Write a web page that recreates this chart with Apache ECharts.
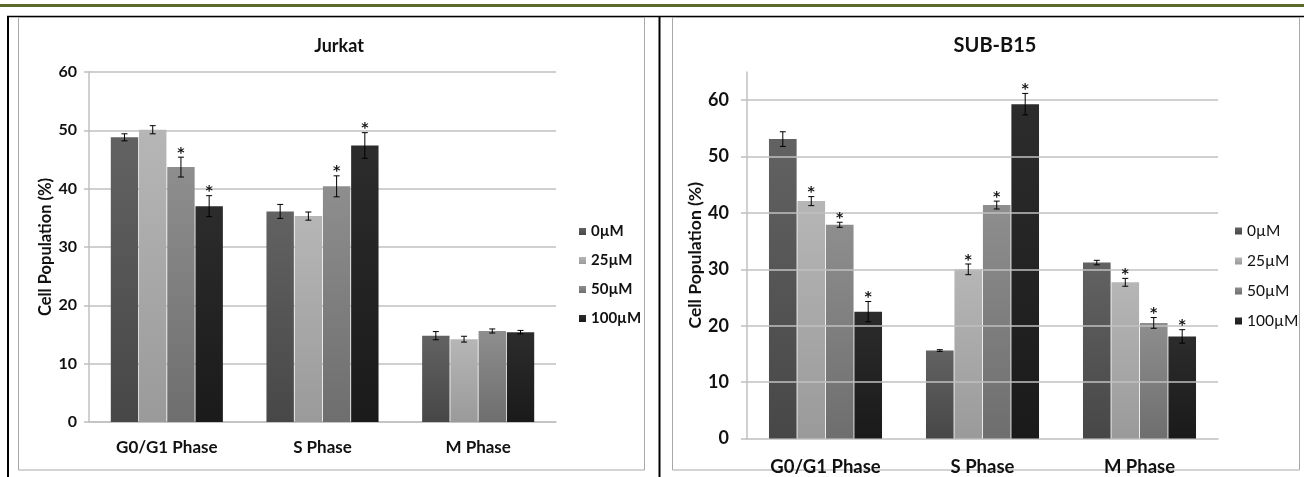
<!DOCTYPE html>
<html>
<head>
<meta charset="utf-8">
<script src="https://cdn.jsdelivr.net/npm/echarts@6/dist/echarts.min.js"></script>
<style>html,body{margin:0;padding:0;background:#fff;}#c{width:1304px;height:477px;}</style>
</head>
<body>
<div id="c"></div>
<script>
const categories = ['G0/G1 Phase', 'S Phase', 'M Phase'];
const doses = ['0µM', '25µM', '50µM', '100µM'];

// Jurkat values per dose (G0/G1, S, M)
const jurkat0 = [48.8, 36.1, 14.8];
const jurkat25 = [50.1, 35.3, 14.2];
const jurkat50 = [43.7, 40.4, 15.6];
const jurkat100 = [37.0, 47.4, 15.4];
const jurkatErr0 = [0.6, 1.2, 0.7];
const jurkatErr25 = [0.7, 0.7, 0.5];
const jurkatErr50 = [1.7, 1.8, 0.35];
const jurkatErr100 = [1.8, 2.2, 0.3];
const jurkatSig0 = [0, 0, 0];
const jurkatSig25 = [0, 0, 0];
const jurkatSig50 = [1, 1, 0];
const jurkatSig100 = [1, 1, 0];

// SUB-B15 values per dose (G0/G1, S, M)
const sub0 = [53.1, 15.6, 31.2];
const sub25 = [42.1, 30.0, 27.7];
const sub50 = [37.9, 41.4, 20.5];
const sub100 = [22.5, 59.3, 18.1];
const subErr0 = [1.3, 0.15, 0.4];
const subErr25 = [0.8, 0.95, 0.7];
const subErr50 = [0.45, 0.7, 0.95];
const subErr100 = [1.8, 1.9, 1.2];
const subSig0 = [0, 0, 0];
const subSig25 = [1, 1, 1];
const subSig50 = [1, 1, 1];
const subSig100 = [1, 1, 1];

const jurkatTicks = [0, 10, 20, 30, 40, 50, 60];
const subTicks = [0, 10, 20, 30, 40, 50, 60];

const barColors = [
  ['#626262', '#474747'],
  ['#b6b6b6', '#9a9a9a'],
  ['#8e8e8e', '#6e6e6e'],
  ['#2c2c2c', '#1a1a1a']
];
const CAT_GAP = 0.28, BAR_GAP = 0.03;

function grad(i) {
  return new echarts.graphic.LinearGradient(0, 0, 0, 1, [
    {offset: 0, color: barColors[i][0]}, {offset: 1, color: barColors[i][1]}
  ]);
}

function errData(vals, errs, sigs) {
  const out = [];
  vals.forEach((v, d) => v.forEach((y, c) => out.push([c, d, y, errs[d][c], sigs[d][c]])));
  return out;
}

function renderErr(params, api) {
  const c = api.value(0), d = api.value(1), v = api.value(2), e = api.value(3), s = api.value(4);
  const catW = api.size([1, 0])[0];
  const groupW = catW * (1 - CAT_GAP);
  const barW = groupW / (4 + 3 * BAR_GAP);
  const off = -groupW / 2 + d * barW * (1 + BAR_GAP) + barW / 2;
  const pTop = api.coord([c, v + e]);
  const pBot = api.coord([c, v - e]);
  const x = pTop[0] + off;
  const cap = 3;
  const st = {stroke: '#000', lineWidth: 1};
  const children = [
    {type: 'line', shape: {x1: x, y1: pTop[1], x2: x, y2: pBot[1]}, style: st},
    {type: 'line', shape: {x1: x - cap, y1: pTop[1], x2: x + cap, y2: pTop[1]}, style: st},
    {type: 'line', shape: {x1: x - cap, y1: pBot[1], x2: x + cap, y2: pBot[1]}, style: st}
  ];
  if (s) {
    children.push({type: 'text', x: x, y: pTop[1] - 4,
      style: {text: '*', fill: '#111', font: 'bold 14px "DejaVu Sans"', align: 'center', verticalAlign: 'middle'}});
  }
  return {type: 'group', children: children};
}

const jVals = [jurkat0, jurkat25, jurkat50, jurkat100];
const jErrs = [jurkatErr0, jurkatErr25, jurkatErr50, jurkatErr100];
const jSigs = [jurkatSig0, jurkatSig25, jurkatSig50, jurkatSig100];
const sVals = [sub0, sub25, sub50, sub100];
const sErrs = [subErr0, subErr25, subErr50, subErr100];
const sSigs = [subSig0, subSig25, subSig50, subSig100];

const series = [];
jVals.forEach((v, i) => series.push({
  type: 'bar', name: doses[i], xAxisIndex: 0, yAxisIndex: 0, data: v,
  barCategoryGap: (CAT_GAP * 100) + '%', barGap: (BAR_GAP * 100) + '%',
  itemStyle: {color: grad(i)}, silent: true
}));
sVals.forEach((v, i) => series.push({
  type: 'bar', name: doses[i], xAxisIndex: 1, yAxisIndex: 1, data: v,
  barCategoryGap: (CAT_GAP * 100) + '%', barGap: (BAR_GAP * 100) + '%',
  itemStyle: {color: grad(i)}, silent: true
}));
series.push({type: 'custom', xAxisIndex: 0, yAxisIndex: 0, renderItem: renderErr,
  data: errData(jVals, jErrs, jSigs), encode: {x: 0, y: 2}, z: 5, silent: true});
series.push({type: 'custom', xAxisIndex: 1, yAxisIndex: 1, renderItem: renderErr,
  data: errData(sVals, sErrs, sSigs), encode: {x: 0, y: 2}, z: 5, silent: true});
// gridlines for the SUB-B15 axis (its top is 65, which carries no gridline)
series.push({type: 'line', xAxisIndex: 1, yAxisIndex: 1, data: [], silent: true,
  markLine: {symbol: 'none', silent: true, label: {show: false},
    lineStyle: {color: '#c0c0c0', width: 1.5, type: 'solid'},
    data: subTicks.filter(t => t > 0).map(t => ({yAxis: t}))}, z: 1});

const gray = '#c0c0c0';
const option = {
  animation: false,
  textStyle: {fontFamily: 'Lato'},
  title: [
    {text: 'Jurkat', left: 334, top: 32, textAlign: 'center',
      textStyle: {fontFamily: 'Lato', fontWeight: 'bold', fontSize: 18, color: '#111'}},
    {text: 'SUB-B15', left: 990, top: 31, textAlign: 'center',
      textStyle: {fontFamily: 'Lato', fontWeight: 'bold', fontSize: 20, color: '#111'}}
  ],
  legend: [
    {data: doses, orient: 'vertical', left: 574, top: 219, itemWidth: 7, itemHeight: 7, itemGap: 14,
      icon: 'rect', selectedMode: false,
      textStyle: {fontFamily: 'Lato', fontWeight: 'bold', fontSize: 15, color: '#111', lineHeight: 15}},
    {data: doses, orient: 'vertical', left: 1230, top: 218, itemWidth: 7, itemHeight: 7, itemGap: 14,
      icon: 'rect', selectedMode: false,
      textStyle: {fontFamily: 'Lato', fontSize: 15.5, color: '#111', lineHeight: 15}}
  ],
  grid: [
    {left: 89, top: 72, width: 467, height: 350},
    {left: 747, top: 72, width: 471, height: 366.5}
  ],
  xAxis: [
    {type: 'category', gridIndex: 0, data: categories,
      axisLine: {lineStyle: {color: gray, width: 1.5}}, axisTick: {show: false},
      axisLabel: {margin: 17, fontFamily: 'Lato', fontWeight: 'bold', fontSize: 17, color: '#111'}},
    {type: 'category', gridIndex: 1, data: categories,
      axisLine: {lineStyle: {color: gray, width: 1.5}}, axisTick: {show: false},
      axisLabel: {margin: 19, fontFamily: 'Lato', fontWeight: 'bold', fontSize: 18.5, color: '#111'}}
  ],
  yAxis: [
    {type: 'value', gridIndex: 0, min: jurkatTicks[0], max: jurkatTicks[jurkatTicks.length - 1], interval: 10,
      name: 'Cell Population (%)', nameLocation: 'middle', nameGap: 34, nameRotate: 90,
      nameTextStyle: {fontFamily: 'Lato', fontWeight: 'bold', fontSize: 16.5, color: '#111'},
      axisLine: {show: true, lineStyle: {color: gray, width: 1.5}},
      axisTick: {show: true, length: 5, inside: false, lineStyle: {color: gray, width: 1.5}},
      splitLine: {lineStyle: {color: gray, width: 1.5}},
      axisLabel: {margin: 12, fontFamily: 'Lato', fontWeight: 'bold', fontSize: 16, color: '#111'}},
    {type: 'value', gridIndex: 1, min: subTicks[0], max: 65, interval: 10,
      name: 'Cell Population (%)', nameLocation: 'middle', nameGap: 40, nameRotate: 90,
      nameTextStyle: {fontFamily: 'Lato', fontWeight: 'bold', fontSize: 17.5, color: '#111'},
      axisLine: {show: true, lineStyle: {color: gray, width: 1.5}},
      axisTick: {show: true, length: 6, inside: false, customValues: subTicks, lineStyle: {color: gray, width: 1.5}},
      splitLine: {show: false},
      axisLabel: {margin: 18, fontFamily: 'Lato', fontWeight: 'bold', fontSize: 18, color: '#111',
        customValues: subTicks}}
  ],
  graphic: [
    {type: 'rect', shape: {x: 0, y: 4, width: 1304, height: 3}, style: {fill: '#5b6a2a'}, silent: true},
    {type: 'line', shape: {x1: 7, y1: 16.5, x2: 1304, y2: 16.5}, style: {stroke: '#000', lineWidth: 1.5}, silent: true},
    {type: 'line', shape: {x1: 8, y1: 16, x2: 8, y2: 477}, style: {stroke: '#000', lineWidth: 2}, silent: true},
    {type: 'line', shape: {x1: 659.5, y1: 16, x2: 659.5, y2: 477}, style: {stroke: '#000', lineWidth: 2}, silent: true},
    {type: 'rect', shape: {x: 18.5, y: 17.5, width: 626, height: 452.5}, style: {fill: 'none', stroke: '#a8a8a8', lineWidth: 1}, silent: true},
    {type: 'rect', shape: {x: 672.5, y: 17.5, width: 627, height: 452.5}, style: {fill: 'none', stroke: '#a8a8a8', lineWidth: 1}, silent: true}
  ],
  series: series
};
const chart = echarts.init(document.getElementById('c'), null, {renderer: 'canvas'});
chart.setOption(option);
</script>
</body>
</html>
